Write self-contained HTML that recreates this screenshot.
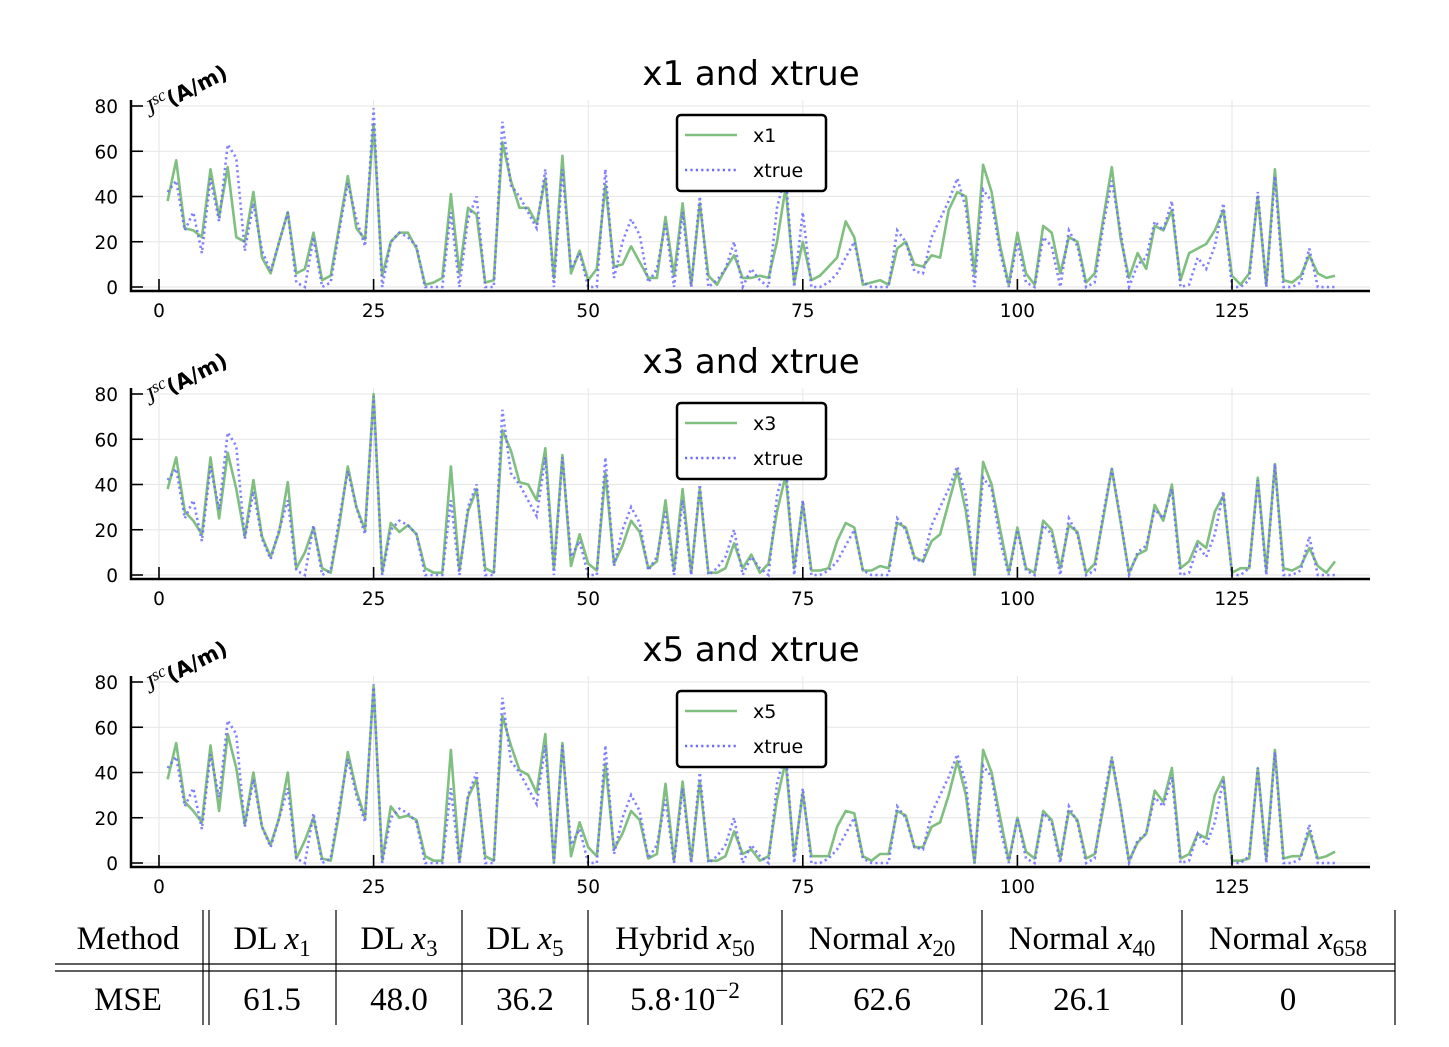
<!DOCTYPE html>
<html><head><meta charset="utf-8">
<style>
html,body{margin:0;padding:0;background:#fff;}
svg{display:block;}
.tick{font-family:"DejaVu Sans","Liberation Sans",sans-serif;font-size:18.5px;fill:#000;}
.title{font-family:"DejaVu Sans","Liberation Sans",sans-serif;font-size:34px;fill:#000;}
.leg{font-family:"DejaVu Sans","Liberation Sans",sans-serif;font-size:19px;fill:#000;}
.tbl{font-family:"Liberation Serif","DejaVu Serif",serif;font-size:33px;fill:#000;}
</style></head>
<body>
<svg id="chart" width="1449" height="1047" viewBox="0 0 1449 1047" xmlns="http://www.w3.org/2000/svg">
<g id="plots"></g>
<g id="table"></g>
</svg>
<script>
const xtrue=[42,47,25,33,15,48,29,63,57,16,37,16,7,20,33,2,0,22,0,2,25,46,30,18,79,0,20,24,22,18,0,0,0,33,0,30,40,0,0,73,45,40,33,26,52,0,52,8,15,0,0,52,4,20,30,23,2,8,28,0,33,0,40,0,3,8,20,0,8,3,0,35,50,0,33,0,0,2,6,13,20,2,0,0,0,25,20,7,6,22,30,38,48,35,0,43,38,15,0,20,2,0,22,18,0,25,18,0,2,27,47,25,0,10,13,29,25,38,0,1,13,8,18,37,0,0,3,42,0,49,0,0,2,17,0,0,0];
const x1=[38,56,26,25,22,52,31,53,22,20,42,13,6,20,33,6,8,24,3,5,27,49,26,21,72,5,20,24,24,17,1,2,4,41,6,35,32,2,3,64,47,35,35,28,48,4,58,6,16,3,8,45,9,10,18,11,4,4,31,5,37,1,37,5,1,8,14,4,4,5,4,20,44,2,20,3,5,9,13,29,22,1,2,3,1,17,20,10,9,14,13,34,42,40,6,54,42,18,1,24,6,1,27,24,6,22,20,2,6,30,53,22,4,15,8,27,25,34,3,15,17,19,25,34,5,1,6,40,1,52,3,2,5,14,6,4,5];
const x3=[38,52,28,24,18,52,25,54,38,17,42,17,8,19,41,3,10,21,3,1,22,48,30,20,80,1,23,19,22,18,3,1,1,48,2,28,38,3,1,64,55,41,40,33,56,3,53,4,18,5,2,45,5,13,24,19,3,6,33,2,38,1,38,1,1,3,14,3,9,1,5,28,44,3,32,2,2,3,15,23,21,2,2,4,3,23,21,8,6,15,18,32,46,28,0,50,40,20,1,21,3,1,24,20,3,22,19,1,5,25,47,24,1,9,11,31,24,40,3,6,15,12,28,35,1,3,3,43,2,49,3,2,4,12,4,1,6];
const x5=[37,53,27,23,18,52,23,57,42,17,40,16,8,20,40,2,10,20,2,1,22,49,32,20,78,1,25,20,21,19,3,1,1,50,1,29,37,3,1,65,52,41,39,31,57,0,53,3,18,7,3,44,6,13,23,19,2,4,35,1,36,1,36,1,1,3,14,4,6,1,3,28,45,3,31,3,3,3,16,23,22,3,1,4,4,23,21,7,7,16,18,30,45,30,0,50,40,20,1,20,5,2,23,19,2,23,19,2,4,24,46,25,1,9,13,32,27,42,2,4,13,11,30,38,1,1,2,42,2,50,2,3,3,14,2,3,5];
const yTicks=[0,20,40,60,80];
const xTicks=[0,25,50,75,100,125];
const seriesNames=["x1","x3","x5"];
const seriesData=[x1,x3,x5];

const NS="http://www.w3.org/2000/svg";
function el(tag,attrs,parent,text){const e=document.createElementNS(NS,tag);for(const k in attrs)e.setAttribute(k,attrs[k]);if(text!==undefined)e.textContent=text;parent.appendChild(e);return e;}
const X0=159,XS=(1232-159)/125;
function sx(v){return X0+v*XS;}
const plots=document.getElementById('plots');
for(let p=0;p<3;p++){
  const off=p*288;
  const y0=287+off, yS=(287-106)/80;
  const sy=v=>y0-v*yS;
  const g=el('g',{},plots);
  
  
  yTicks.forEach(t=>{const l=el('line',{x1:131,x2:1370,y1:sy(t),y2:sy(t),stroke:'#e6e6e6','stroke-width':1},g);});
  xTicks.forEach(t=>{const l=el('line',{x1:sx(t),x2:sx(t),y1:100+off,y2:291+off,stroke:'#e6e6e6','stroke-width':1},g);});
  const d=seriesData[p];
  const ptsA=d.map((v,i)=>sx(i+1).toFixed(1)+','+sy(v).toFixed(1)).join(' ');
  const la=el('polyline',{points:ptsA,fill:'none',stroke:'#7fbf7f','stroke-width':2.6,'stroke-linejoin':'round'},g);
  
  
  const ptsB=xtrue.map((v,i)=>sx(i+1).toFixed(1)+','+sy(v).toFixed(1)).join(' ');
  const lb=el('polyline',{points:ptsB,fill:'none',stroke:'#6b6bff','stroke-width':2.6,'stroke-dasharray':'2.2 3.2','stroke-opacity':0.85},g);
  
  
  const ax=el('path',{d:`M131 ${100+off} V${291+off} H1370`,fill:'none',stroke:'#000','stroke-width':2.5},g);
  
  
  yTicks.forEach(t=>{
    el('line',{x1:131,x2:143,y1:sy(t),y2:sy(t),stroke:'#000','stroke-width':1.6},g);
    const tx=el('text',{x:118,y:sy(t)+7,'text-anchor':'end',class:'tick'},g,String(t));
    
    
  });
  xTicks.forEach(t=>{
    el('line',{x1:sx(t),x2:sx(t),y1:291+off,y2:279+off,stroke:'#000','stroke-width':1.6},g);
    const tx=el('text',{x:sx(t),y:317+off,'text-anchor':'middle',class:'tick'},g,String(t));
    
    
  });
  const ti=el('text',{x:751,y:85+off,'text-anchor':'middle',class:'title'},g,seriesNames[p]+' and xtrue');
  
  
  const yl=el('text',{transform:`translate(149 ${118+off}) rotate(-27)`},g);
  
  
  el('tspan',{'font-family':'Liberation Serif, serif','font-style':'italic','font-size':24},yl,'J');
  el('tspan',{'font-family':'Liberation Serif, serif','font-style':'italic','font-size':17,dy:-9},yl,'sc');
  el('tspan',{'font-family':'DejaVu Sans, sans-serif','font-weight':'bold','font-size':21,dy:9},yl,'(A/m)');
  const lg=el('g',{},g);
  
  
  el('rect',{x:677,y:115+off,width:149,height:76,rx:4,fill:'#fff',stroke:'#000','stroke-width':2.5},lg);
  el('line',{x1:685,x2:737,y1:135+off,y2:135+off,stroke:'#7fbf7f','stroke-width':2.6},lg);
  el('text',{x:753,y:142+off,class:'leg'},lg,seriesNames[p]);
  el('line',{x1:685,x2:737,y1:170+off,y2:170+off,stroke:'#6b6bff','stroke-width':2.6,'stroke-dasharray':'2.2 3.2'},lg);
  el('text',{x:753,y:177+off,class:'leg'},lg,'xtrue');
}
const tb=document.getElementById('table');
const vlines=[203,209,336,462,588,782,982,1182,1395];
vlines.forEach(x=>el('line',{x1:x,x2:x,y1:910,y2:1025,stroke:'#000','stroke-width':1.2},tb));
el('line',{x1:55,x2:1395,y1:964,y2:964,stroke:'#000','stroke-width':1.2},tb);
el('line',{x1:55,x2:1395,y1:971,y2:971,stroke:'#000','stroke-width':1.2},tb);
const headers=[[128,'Method',null],[272,'DL ','1'],[399,'DL ','3'],[525,'DL ','5'],[685,'Hybrid ','50'],[882,'Normal ','20'],[1082,'Normal ','40'],[1288,'Normal ','658']];
headers.forEach(h=>{
  const t=el('text',{x:h[0],y:949,'text-anchor':'middle',class:'tbl'},tb);
  
  
  el('tspan',{},t,h[1]);
  if(h[2]){el('tspan',{'font-style':'italic'},t,'x');el('tspan',{'font-size':23,dy:7},t,h[2]);}
});
const vals=['MSE','61.5','48.0','36.2',null,'62.6','26.1','0'];
vals.forEach((v,i)=>{
  const t=el('text',{x:headers[i][0],y:1010,'text-anchor':'middle',class:'tbl'},tb);
  
  
  if(v===null){el('tspan',{},t,'5.8·10');el('tspan',{'font-size':23,dy:-12},t,'−2');}
  else el('tspan',{},t,v);
});
</script>
</body></html>
